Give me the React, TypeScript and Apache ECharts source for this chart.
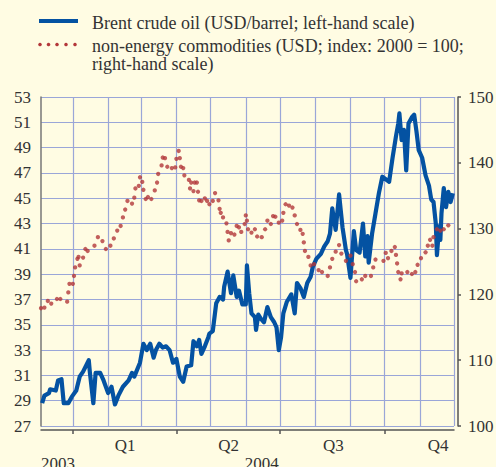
import React, { useEffect, useRef } from 'react';
import * as echarts from 'echarts';

// ---- axis settings / labels ----
const X_START = '2003-12-04';
const X_END = '2004-12-01';
const leftAxis = { min: 27, max: 53, interval: 2 };
const rightAxis = { min: 100, max: 150, interval: 10 };
const quarterStarts = ['2004-01-01', '2004-04-01', '2004-07-01', '2004-10-01'];
const xLabelDates = ['2003-12-19', '2004-02-16', '2004-05-17', '2004-06-15', '2004-08-17', '2004-11-17'];
const xLabelTexts = ['\n2003', 'Q1', 'Q2', '\n2004', 'Q3', 'Q4'];

const legendBrent = 'Brent crude oil (USD/barrel; left-hand scale)';
const legendNonEnergy1 = 'non-energy commodities (USD; index: 2000 = 100;';
const legendNonEnergy2 = 'right-hand scale)';

// ---- Brent crude oil (USD/barrel) ----
const brentDec03: [string, number][] = [
  ['2003-12-05', 28.8], ['2003-12-07', 29.4], ['2003-12-11', 29.6], ['2003-12-12', 29.9], ['2003-12-17', 29.8],
  ['2003-12-19', 30.6], ['2003-12-22', 30.7], ['2003-12-24', 28.8], ['2003-12-28', 28.8], ['2003-12-31', 29.3],
];
const brentQ1: [string, number][] = [
  ['2004-01-04', 29.8], ['2004-01-07', 30.9], ['2004-01-10', 31.3], ['2004-01-15', 32.2], ['2004-01-16', 31.2],
  ['2004-01-19', 28.8], ['2004-01-21', 31.2], ['2004-01-25', 31.2], ['2004-01-28', 30.6],
  ['2004-02-01', 29.6], ['2004-02-04', 30.1], ['2004-02-07', 28.7], ['2004-02-10', 29.4], ['2004-02-14', 30.1],
  ['2004-02-19', 30.6], ['2004-02-22', 31.2], ['2004-02-24', 30.9], ['2004-02-29', 32.0],
  ['2004-03-03', 33.5], ['2004-03-06', 33.0], ['2004-03-09', 33.5], ['2004-03-12', 32.4], ['2004-03-14', 33.0],
  ['2004-03-17', 33.5], ['2004-03-20', 33.2], ['2004-03-23', 33.3], ['2004-03-26', 33.0], ['2004-03-29', 32.0],
];
const brentQ2: [string, number][] = [
  ['2004-04-01', 32.3], ['2004-04-04', 30.9], ['2004-04-07', 30.5], ['2004-04-10', 31.7], ['2004-04-14', 31.8],
  ['2004-04-16', 33.7], ['2004-04-19', 33.3], ['2004-04-21', 33.8], ['2004-04-23', 32.7], ['2004-04-26', 33.3],
  ['2004-04-29', 34.0], ['2004-04-30', 34.3],
  ['2004-05-03', 34.5], ['2004-05-06', 36.7], ['2004-05-09', 37.2], ['2004-05-12', 37.0], ['2004-05-13', 38.0],
  ['2004-05-16', 39.2], ['2004-05-19', 37.5], ['2004-05-21', 38.9], ['2004-05-24', 37.2], ['2004-05-26', 37.7],
  ['2004-05-29', 36.6],
  ['2004-06-01', 36.6], ['2004-06-02', 39.7], ['2004-06-04', 37.5], ['2004-06-06', 35.9], ['2004-06-09', 35.6],
  ['2004-06-10', 34.6], ['2004-06-12', 35.8], ['2004-06-14', 35.5], ['2004-06-17', 35.2], ['2004-06-20', 36.4],
  ['2004-06-23', 35.6], ['2004-06-26', 35.2], ['2004-06-28', 34.8], ['2004-06-30', 33.0],
];
const brentQ3: [string, number][] = [
  ['2004-07-02', 34.0], ['2004-07-04', 35.9], ['2004-07-07', 36.8], ['2004-07-11', 37.4], ['2004-07-14', 35.9],
  ['2004-07-16', 38.3], ['2004-07-19', 37.9], ['2004-07-22', 37.2], ['2004-07-25', 38.3], ['2004-07-28', 38.8],
  ['2004-07-30', 39.6],
  ['2004-08-02', 40.2], ['2004-08-06', 40.6], ['2004-08-09', 41.2], ['2004-08-12', 41.6], ['2004-08-14', 42.2],
  ['2004-08-16', 44.2], ['2004-08-19', 42.5], ['2004-08-22', 45.3], ['2004-08-25', 42.7], ['2004-08-28', 40.9],
  ['2004-08-29', 40.6],
  ['2004-09-01', 38.7], ['2004-09-04', 42.4], ['2004-09-06', 40.9], ['2004-09-09', 40.7], ['2004-09-12', 43.0],
  ['2004-09-14', 40.4], ['2004-09-16', 42.0], ['2004-09-17', 39.9], ['2004-09-20', 42.2], ['2004-09-23', 43.8],
  ['2004-09-26', 45.4], ['2004-09-29', 46.7],
];
const brentQ4: [string, number][] = [
  ['2004-10-02', 46.5], ['2004-10-05', 46.3], ['2004-10-08', 48.2], ['2004-10-11', 49.9], ['2004-10-13', 50.9],
  ['2004-10-14', 51.7], ['2004-10-16', 49.6], ['2004-10-18', 50.4], ['2004-10-20', 47.2], ['2004-10-22', 50.9],
  ['2004-10-25', 51.4], ['2004-10-27', 51.6], ['2004-10-29', 50.3], ['2004-10-31', 48.8],
  ['2004-11-03', 48.2], ['2004-11-06', 46.8], ['2004-11-09', 46.0], ['2004-11-11', 44.9], ['2004-11-13', 44.7],
  ['2004-11-15', 43.0], ['2004-11-16', 40.5], ['2004-11-18', 42.8], ['2004-11-19', 41.7], ['2004-11-20', 43.8],
  ['2004-11-22', 45.8], ['2004-11-24', 44.3], ['2004-11-26', 45.5], ['2004-11-28', 44.7], ['2004-11-30', 45.4],
];

// ---- non-energy commodities (index 2000 = 100) ----
const nonEnergyDec03: [string, number][] = [
  ['2003-12-04', 117.9], ['2003-12-07', 118.0], ['2003-12-10', 119.0], ['2003-12-13', 118.6], ['2003-12-18', 119.3],
  ['2003-12-21', 119.3], ['2003-12-27', 118.9], ['2003-12-28', 120.3], ['2003-12-29', 121.6],
];
const nonEnergyQ1: [string, number][] = [
  ['2004-01-01', 121.6], ['2004-01-02', 122.8], ['2004-01-03', 124.1], ['2004-01-05', 125.4], ['2004-01-06', 125.7],
  ['2004-01-07', 124.4], ['2004-01-10', 125.6], ['2004-01-12', 126.9], ['2004-01-14', 126.6], ['2004-01-20', 127.4],
  ['2004-01-23', 128.7], ['2004-01-27', 128.1], ['2004-01-30', 126.9],
  ['2004-02-03', 127.4], ['2004-02-06', 128.5], ['2004-02-09', 129.7], ['2004-02-12', 130.4], ['2004-02-14', 131.7],
  ['2004-02-16', 132.9], ['2004-02-18', 134.2], ['2004-02-22', 133.8], ['2004-02-24', 134.7], ['2004-02-25', 136.1],
  ['2004-02-28', 136.5], ['2004-02-29', 137.8],
  ['2004-03-02', 137.1], ['2004-03-03', 135.9], ['2004-03-05', 134.5], ['2004-03-07', 134.8], ['2004-03-10', 134.5],
  ['2004-03-13', 135.8], ['2004-03-15', 137.0], ['2004-03-16', 138.3], ['2004-03-19', 139.6], ['2004-03-20', 140.8],
  ['2004-03-22', 140.7], ['2004-03-24', 139.4], ['2004-03-28', 139.2], ['2004-03-31', 139.3],
];
const nonEnergyQ2: [string, number][] = [
  ['2004-04-01', 140.6], ['2004-04-03', 141.8], ['2004-04-04', 140.7], ['2004-04-05', 139.4], ['2004-04-07', 139.2],
  ['2004-04-08', 138.1], ['2004-04-12', 137.4], ['2004-04-13', 136.1], ['2004-04-14', 137.0], ['2004-04-16', 135.7],
  ['2004-04-17', 137.0], ['2004-04-19', 137.0], ['2004-04-20', 135.6], ['2004-04-21', 134.3], ['2004-04-23', 134.2],
  ['2004-04-26', 134.6], ['2004-04-28', 134.2], ['2004-04-30', 133.7],
  ['2004-05-03', 134.2], ['2004-05-05', 135.4], ['2004-05-08', 134.3], ['2004-05-09', 133.0], ['2004-05-10', 132.4],
  ['2004-05-12', 131.7], ['2004-05-15', 130.8], ['2004-05-16', 129.5], ['2004-05-17', 128.2], ['2004-05-19', 129.3],
  ['2004-05-22', 129.1], ['2004-05-24', 130.4], ['2004-05-26', 130.2], ['2004-05-28', 129.5], ['2004-05-31', 130.7],
  ['2004-06-01', 132.0], ['2004-06-02', 131.2], ['2004-06-03', 129.9], ['2004-06-06', 129.4], ['2004-06-09', 129.9],
  ['2004-06-11', 128.8], ['2004-06-15', 128.7], ['2004-06-18', 129.9], ['2004-06-20', 131.2], ['2004-06-23', 130.7],
  ['2004-06-25', 131.9], ['2004-06-27', 131.8], ['2004-06-30', 130.9],
];
const nonEnergyQ3: [string, number][] = [
  ['2004-07-03', 131.2], ['2004-07-04', 132.4], ['2004-07-06', 133.7], ['2004-07-09', 133.5], ['2004-07-12', 133.2],
  ['2004-07-14', 132.0], ['2004-07-16', 130.7], ['2004-07-19', 129.8], ['2004-07-21', 129.2], ['2004-07-22', 127.9],
  ['2004-07-23', 126.6], ['2004-07-26', 125.7], ['2004-07-28', 124.4], ['2004-07-31', 124.6],
  ['2004-08-04', 123.7], ['2004-08-07', 123.4], ['2004-08-12', 122.8], ['2004-08-14', 124.1], ['2004-08-16', 125.4],
  ['2004-08-19', 126.5], ['2004-08-22', 127.5], ['2004-08-24', 126.2], ['2004-08-28', 125.1],
  ['2004-09-01', 125.9], ['2004-09-03', 124.6], ['2004-09-05', 123.4], ['2004-09-06', 122.0], ['2004-09-11', 122.3],
  ['2004-09-14', 122.8], ['2004-09-19', 122.8], ['2004-09-21', 124.1], ['2004-09-23', 125.3], ['2004-09-30', 125.1],
];
const nonEnergyQ4: [string, number][] = [
  ['2004-10-02', 126.3], ['2004-10-04', 125.5], ['2004-10-07', 126.6], ['2004-10-10', 127.2], ['2004-10-11', 126.0],
  ['2004-10-12', 124.7], ['2004-10-13', 123.4], ['2004-10-15', 122.3], ['2004-10-16', 123.2], ['2004-10-21', 123.4],
  ['2004-10-25', 123.1], ['2004-10-28', 123.4], ['2004-10-30', 124.5],
  ['2004-11-02', 125.5], ['2004-11-06', 126.4], ['2004-11-08', 127.4], ['2004-11-10', 128.3], ['2004-11-12', 127.4],
  ['2004-11-13', 128.7], ['2004-11-16', 129.9], ['2004-11-19', 129.7], ['2004-11-22', 129.9], ['2004-11-26', 130.5],
];

const BLUE = '#0452A2';
const RED = '#B3373A';
const GRID = '#9AA6D8';
const AXIS = '#555555';
const TEXT = '#333333';
const BG = '#FFFCE3';
const FONT = "'Liberation Serif', 'Times New Roman', serif";

function buildDays(start: string, end: string): string[] {
  const out: string[] = [];
  const s = Date.parse(start);
  const e = Date.parse(end);
  for (let t = s; t <= e; t += 86400000) out.push(new Date(t).toISOString().slice(0, 10));
  return out;
}

export default function App() {
  const ref = useRef<HTMLDivElement>(null);

  useEffect(() => {
    if (!ref.current) return;
    const chart = echarts.init(ref.current, undefined, { renderer: 'svg' });
    const days = buildDays(X_START, X_END);
    const brent = [...brentDec03, ...brentQ1, ...brentQ2, ...brentQ3, ...brentQ4];
    const nonEnergy = [...nonEnergyDec03, ...nonEnergyQ1, ...nonEnergyQ2, ...nonEnergyQ3, ...nonEnergyQ4];
    const labelFor = (v: string) => {
      const i = xLabelDates.indexOf(v);
      return i >= 0 ? xLabelTexts[i] : '';
    };

    chart.setOption({
      animation: false,
      backgroundColor: BG,
      grid: {
        left: 41, right: 42, top: 97, bottom: 41,
        containLabel: false,
        outerBoundsMode: 'none',
      },
      xAxis: [
        {
          type: 'time',
          min: X_START,
          max: X_END,
          show: false,
        },
        {
          type: 'category',
          data: days,
          boundaryGap: false,
          position: 'bottom',
          offset: 4,
          axisLine: { show: true, lineStyle: { color: AXIS, width: 1.5 } },
          axisTick: {
            show: true,
            length: 4,
            interval: (_i: number, v: string) => quarterStarts.indexOf(v) >= 0,
            lineStyle: { color: AXIS, width: 1.5 },
          },
          axisLabel: {
            show: true,
            interval: (_i: number, v: string) => xLabelDates.indexOf(v) >= 0,
            formatter: (v: string) => labelFor(v),
            color: TEXT,
            fontFamily: FONT,
            fontSize: 17,
            lineHeight: 18,
            margin: 6,
          },
          splitLine: {
            show: true,
            interval: (_i: number, v: string) => v.slice(8, 10) === '01',
            lineStyle: { color: GRID, width: 1.2 },
          },
        },
      ],
      yAxis: [
        {
          type: 'value',
          position: 'left',
          min: leftAxis.min,
          max: leftAxis.max,
          interval: leftAxis.interval,
          axisLine: { show: true, lineStyle: { color: '#777', width: 1.5 } },
          axisTick: { show: false },
          axisLabel: { color: TEXT, fontFamily: FONT, fontSize: 17, margin: 10 },
          splitLine: { show: true, lineStyle: { color: GRID, width: 1.2 } },
        },
        {
          type: 'value',
          position: 'right',
          offset: 4,
          min: rightAxis.min,
          max: rightAxis.max,
          interval: rightAxis.interval,
          axisLine: { show: true, lineStyle: { color: AXIS, width: 1.5 } },
          axisTick: { show: true, length: 3, lineStyle: { color: AXIS, width: 1.5 } },
          axisLabel: { color: TEXT, fontFamily: FONT, fontSize: 17, margin: 10 },
          splitLine: { show: false },
        },
      ],
      series: [
        {
          name: 'Brent',
          type: 'line',
          xAxisIndex: 0,
          yAxisIndex: 0,
          data: brent,
          showSymbol: false,
          lineStyle: { color: BLUE, width: 4.2, join: 'round' },
          itemStyle: { color: BLUE },
          silent: true,
          z: 3,
        },
        {
          name: 'non-energy',
          type: 'scatter',
          xAxisIndex: 0,
          yAxisIndex: 1,
          data: nonEnergy,
          symbol: 'circle',
          symbolSize: 4.3,
          itemStyle: { color: RED },
          silent: true,
          z: 4,
        },
      ],
      graphic: [
        { type: 'line', shape: { x1: 39, y1: 21, x2: 78, y2: 21 }, style: { stroke: BLUE, lineWidth: 4 } },
        { type: 'circle', shape: { cx: 40, cy: 44.5, r: 1.8 }, style: { fill: RED } },
        { type: 'circle', shape: { cx: 48.5, cy: 44.5, r: 1.8 }, style: { fill: RED } },
        { type: 'circle', shape: { cx: 57, cy: 44.5, r: 1.8 }, style: { fill: RED } },
        { type: 'circle', shape: { cx: 66, cy: 44.5, r: 1.8 }, style: { fill: RED } },
        { type: 'circle', shape: { cx: 75, cy: 44.5, r: 1.8 }, style: { fill: RED } },
        {
          type: 'text', x: 92, y: 23,
          style: { text: legendBrent, fill: TEXT, font: `18px ${FONT}`, verticalAlign: 'middle' },
        },
        {
          type: 'text', x: 92, y: 46,
          style: { text: legendNonEnergy1, fill: TEXT, font: `18px ${FONT}`, verticalAlign: 'middle' },
        },
        {
          type: 'text', x: 92, y: 64,
          style: { text: legendNonEnergy2, fill: TEXT, font: `18px ${FONT}`, verticalAlign: 'middle' },
        },
      ],
    });

    return () => chart.dispose();
  }, []);

  return (
    <div
      ref={ref}
      style={{ position: 'fixed', left: 0, top: 0, width: 496, height: 467, background: BG }}
    />
  );
}
